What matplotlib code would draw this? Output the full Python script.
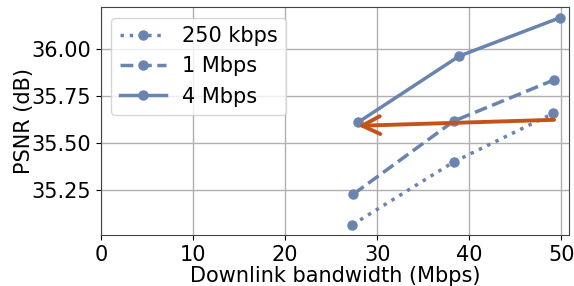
import matplotlib.pyplot as plt

# bandwidth (Mbps) and PSNR (dB) for each uplink bitrate
bw_250k = [27.3, 38.3, 49.1]
psnr_250k = [35.064, 35.399, 35.658]
bw_1m = [27.4, 38.3, 49.2]
psnr_1m = [35.227, 35.617, 35.837]
bw_4m = [27.9, 38.9, 49.9]
psnr_4m = [35.610, 35.964, 36.170]

# arrow: from high-bandwidth end back to low-bandwidth end
arrow_tail = (49.2, 35.624)
arrow_head = (27.9, 35.592)

COLOR = '#6a84b0'
ARROW_COLOR = '#c4521a'

fig, ax = plt.subplots(figsize=(5.74, 2.86), dpi=100)

ax.plot(bw_250k, psnr_250k, linestyle=':', marker='o', color=COLOR,
        lw=2.5, ms=6.5, label='250 kbps')
ax.plot(bw_1m, psnr_1m, linestyle='--', marker='o', color=COLOR,
        lw=2.5, ms=6.5, label='1 Mbps')
ax.plot(bw_4m, psnr_4m, linestyle='-', marker='o', color=COLOR,
        lw=2.5, ms=6.5, label='4 Mbps')

ax.annotate('', xy=arrow_head, xytext=arrow_tail,
            arrowprops=dict(arrowstyle='->', color=ARROW_COLOR, lw=2.8,
                            mutation_scale=32, shrinkA=0, shrinkB=0))

ax.set_xlim(0, 50.87)
ax.set_yticks([35.25, 35.50, 35.75, 36.00])
ax.set_xticks([0, 10, 20, 30, 40, 50])
ax.grid(True, color='#b0b0b0', lw=1)
ax.set_axisbelow(True)
for s in ax.spines.values():
    s.set_color('#444444')

ax.tick_params(labelsize=15)
ax.set_xlabel('Downlink bandwidth (Mbps)', fontsize=15, labelpad=1)
ax.set_ylabel('PSNR (dB)', fontsize=15, labelpad=-2)
ax.legend(loc='upper left', fontsize=15, handlelength=2.2)

fig.subplots_adjust(left=0.176, right=0.992, top=0.975, bottom=0.178)
fig.savefig('out.png', dpi=100)
